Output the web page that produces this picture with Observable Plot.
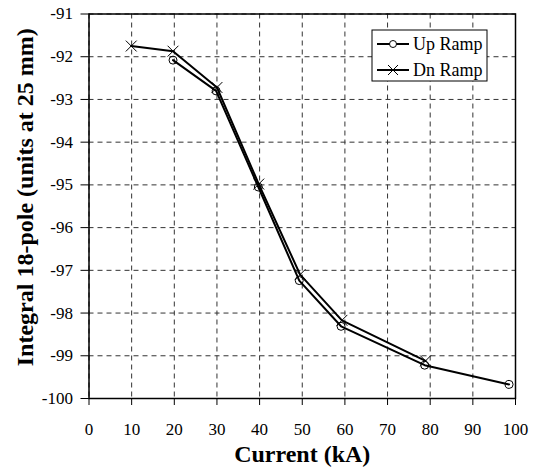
<!DOCTYPE html>
<html>
<head>
<meta charset="utf-8">
<script src="https://cdn.jsdelivr.net/npm/d3@7"></script>
<script src="https://cdn.jsdelivr.net/npm/@observablehq/plot@0.6"></script>
<style>
  body { margin: 0; background: #fff; }
  #chart svg { display: block; }
  #chart svg text { font-family: "Liberation Serif", "Times New Roman", serif !important; }
</style>
</head>
<body>
<div id="chart"></div>
<script>
// Up Ramp (open circles)
const upCurrent = [19.7, 29.8, 39.7, 49.3, 59.1, 78.7, 98.5];
const upValue   = [-92.08, -92.8, -95.05, -97.24, -98.31, -99.22, -99.67];
// Dn Ramp (crosses)
const dnCurrent = [9.9, 19.7, 30.0, 39.8, 49.5, 59.3, 78.9];
const dnValue   = [-91.75, -91.87, -92.72, -94.98, -97.1, -98.17, -99.12];

const xTicks = [0, 10, 20, 30, 40, 50, 60, 70, 80, 90, 100];
const yTicks = [-91, -92, -93, -94, -95, -96, -97, -98, -99, -100];
const seriesNames = ["Up Ramp", "Dn Ramp"];

const up = upCurrent.map((x, i) => ({x, y: upValue[i]}));
const dn = dnCurrent.map((x, i) => ({x, y: dnValue[i]}));

const font = "Liberation Serif, Times New Roman, serif";

const plot = Plot.plot({
  width: 534,
  height: 469,
  marginLeft: 88.5,
  marginRight: 19,
  marginTop: 13.5,
  marginBottom: 71,
  style: {fontFamily: font, fontSize: "17px", background: "#fff", color: "#000"},
  x: {domain: [0, 100]},
  y: {domain: [-100, -91]},
  marks: [
    Plot.gridX(xTicks, {stroke: "#333", strokeOpacity: 1, strokeDasharray: "5,4"}),
    Plot.gridY(yTicks, {stroke: "#333", strokeOpacity: 1, strokeDasharray: "5,4"}),
    Plot.axisX(xTicks, {tickSize: 7, tickPadding: 17, label: null, tickFormat: d => String(d), fontSize: 17}),
    Plot.axisY(yTicks, {tickSize: 8, tickPadding: 8, label: null, tickFormat: d => String(d), fontSize: 17}),
    Plot.frame({stroke: "#000", strokeWidth: 1.5}),
    Plot.line(up, {x: "x", y: "y", stroke: "#000", strokeWidth: 2}),
    Plot.line(dn, {x: "x", y: "y", stroke: "#000", strokeWidth: 2}),
    Plot.dot(up, {x: "x", y: "y", r: 4, stroke: "#000", strokeWidth: 1, fill: "none"}),
    Plot.dot(dn, {x: "x", y: "y", r: 5, symbol: "times", stroke: "#000", strokeWidth: 1}),
    Plot.text(["Current (kA)"], {frameAnchor: "bottom", lineAnchor: "middle", dy: 56, fontSize: 24, fontWeight: "bold", fill: "#000"}),
    Plot.text(["Integral 18-pole (units at 25 mm)"], {frameAnchor: "left", lineAnchor: "middle", textAnchor: "middle", rotate: -90, dx: -64, dy: -9, fontSize: 24, fontWeight: "bold", fill: "#000"})
  ]
});

// Legend box inside the plot area (top right)
const svg = d3.select(plot);
const lg = svg.append("g").attr("font-size", 18).attr("text-anchor", "start");
lg.append("rect").attr("x", 372).attr("y", 30).attr("width", 115).attr("height", 51)
  .attr("fill", "#fff").attr("stroke", "#000").attr("stroke-width", 1);
seriesNames.forEach((name, i) => {
  const cy = 44 + i * 26;
  lg.append("line").attr("x1", 377).attr("x2", 409).attr("y1", cy).attr("y2", cy)
    .attr("stroke", "#000").attr("stroke-width", 2);
  if (i === 0) {
    lg.append("circle").attr("cx", 393).attr("cy", cy).attr("r", 3.5)
      .attr("fill", "#fff").attr("stroke", "#000");
  } else {
    lg.append("path").attr("d", `M${388},${cy-5}L${398},${cy+5}M${388},${cy+5}L${398},${cy-5}`)
      .attr("stroke", "#000").attr("stroke-width", 1);
  }
  lg.append("text").attr("x", 413).attr("y", cy).attr("dy", "0.35em")
    .attr("text-anchor", "start").attr("fill", "#000").text(name);
});

document.getElementById("chart").appendChild(plot);
</script>
</body>
</html>
